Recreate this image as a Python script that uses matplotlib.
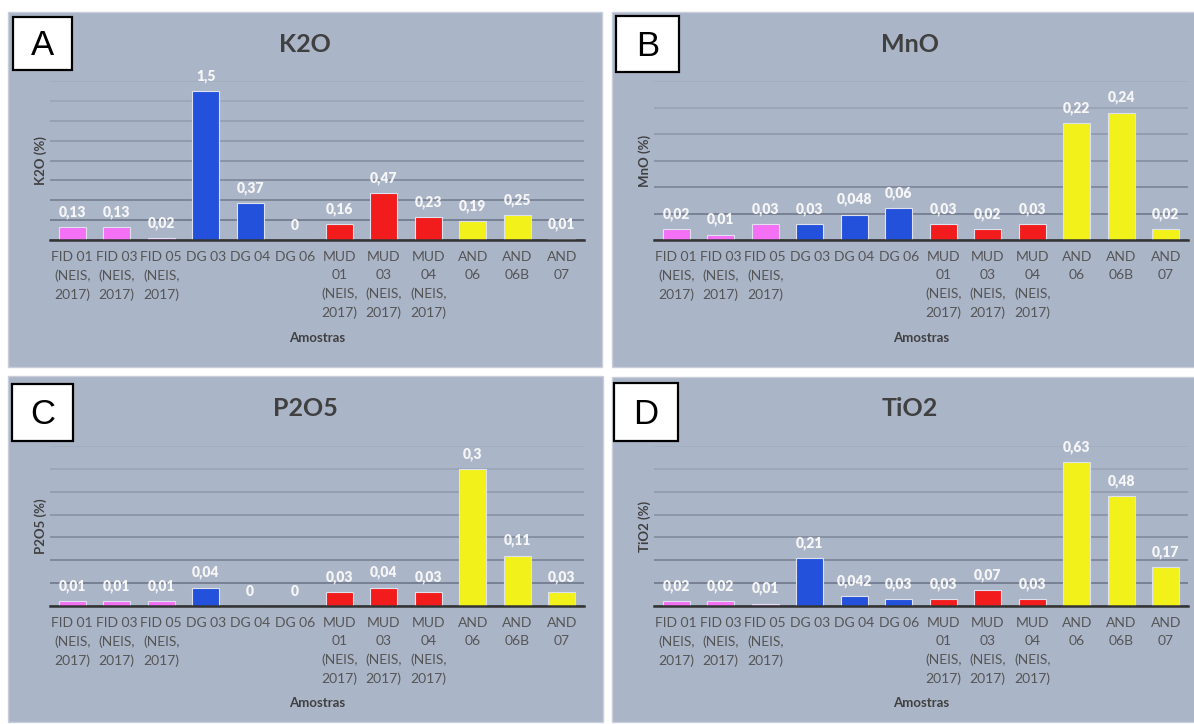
import matplotlib
matplotlib.use("Agg")
import matplotlib.pyplot as plt
from matplotlib.patches import Rectangle
import numpy as np

# Sample names (multi-line tick labels)
samples = [
    "FID 01\n(NEIS,\n2017)", "FID 03\n(NEIS,\n2017)", "FID 05\n(NEIS,\n2017)",
    "DG 03", "DG 04", "DG 06",
    "MUD\n01\n(NEIS,\n2017)", "MUD\n03\n(NEIS,\n2017)", "MUD\n04\n(NEIS,\n2017)",
    "AND\n06", "AND\n06B", "AND\n07",
]

# Oxide contents (%)
k2o = [0.13, 0.13, 0.02, 1.5, 0.37, 0, 0.16, 0.47, 0.23, 0.19, 0.25, 0.01]
mno = [0.02, 0.01, 0.03, 0.03, 0.048, 0.06, 0.03, 0.02, 0.03, 0.22, 0.24, 0.02]
p2o5 = [0.01, 0.01, 0.01, 0.04, 0, 0, 0.03, 0.04, 0.03, 0.3, 0.11, 0.03]
tio2 = [0.02, 0.02, 0.01, 0.21, 0.042, 0.03, 0.03, 0.07, 0.03, 0.63, 0.48, 0.17]

# Colour per sample group: FID, DG, MUD, AND
group_colors = ["#f470f4", "#2351dc", "#f21c1c", "#f2f21a"]
bar_colors = [group_colors[i // 3] for i in range(len(samples))]

W, H = 1194, 724
BG = "#abb5c8"
TEXT = "#404040"
TICK = "#555555"


def ax_rect(l, t, w, h):
    return [l / W, 1 - (t + h) / H, w / W, h / H]


panels = [
    # letter, title, ylabel, values, ymax, step, panel px, axes px, box px, title px
    ("A", "K2O", "K2O (%)", k2o, 1.6, 0.2, (8, 12, 594, 355), (50, 81, 534, 159),
     (13, 17, 59, 53), (305, 44)),
    ("B", "MnO", "MnO (%)", mno, 0.3, 0.05, (612, 12, 590, 355), (654, 81, 534, 159),
     (616, 16, 63, 56), (910, 44)),
    ("C", "P2O5", "P2O5 (%)", p2o5, 0.35, 0.05, (8, 376, 595, 346), (50, 446, 534, 160),
     (12, 384, 61, 57), (305, 409)),
    ("D", "TiO2", "TiO2 (%)", tio2, 0.7, 0.1, (612, 377, 590, 345), (654, 446, 534, 160),
     (614, 383, 64, 58), (910, 409)),
]


def fmt(v):
    return f"{v:g}".replace(".", ",")


fig = plt.figure(figsize=(W / 100, H / 100), dpi=100)
fig.patch.set_facecolor("white")

for letter, title, ylabel, values, ymax, step, prect, arect, brect, tpos in panels:
    px, py, pw, ph = prect
    fig.patches.append(Rectangle((px / W, 1 - (py + ph) / H), pw / W, ph / H,
                                 transform=fig.transFigure, facecolor=BG,
                                 edgecolor="#c9ced8", linewidth=1, zorder=-1))

    ax = fig.add_axes(ax_rect(*arect))
    ax.patch.set_visible(False)
    x = np.arange(len(samples))
    bars = ax.bar(x, values, width=0.6, color=bar_colors, edgecolor="#dde2ee",
                  linewidth=0.8, zorder=3)
    ax.set_xlim(-0.5, len(samples) - 0.5)
    ax.set_ylim(0, ymax)
    ticks = np.arange(0, ymax + step / 2, step)
    ax.set_yticks(ticks)
    ax.tick_params(axis="y", length=0, labelleft=False)
    ax.yaxis.grid(True, color="#525a6a", linewidth=1.3, zorder=1)
    for t, gl in zip(ticks, ax.get_ygridlines()):
        gl.set_alpha(0.7 - 0.62 * (t / ymax))
    ax.set_axisbelow(True)

    for s in ["top", "left", "right"]:
        ax.spines[s].set_visible(False)
    ax.spines["bottom"].set_color("#333333")
    ax.spines["bottom"].set_linewidth(1.8)
    ax.spines["bottom"].set_zorder(4)

    ax.set_xticks(x)
    ax.set_xticklabels(samples, fontsize=10, color=TICK, family="Lato",
                       linespacing=1.6, multialignment="center")
    ax.tick_params(axis="x", length=0, pad=8)

    for b, v in zip(bars, values):
        ax.annotate(fmt(v), (b.get_x() + b.get_width() / 2, v),
                    xytext=(0, 6), textcoords="offset points", ha="center",
                    va="bottom", fontsize=10, fontweight="heavy", color="#f6f6f6",
                    family="Lato", zorder=5)

    ax.set_xlabel("Amostras", fontsize=9.5, fontweight="bold", color=TEXT, family="Lato")
    xl_y = 338 if py < 300 else 703
    ax.xaxis.set_label_coords(0.5, (arect[1] + arect[3] - xl_y) / arect[3],
                              transform=ax.transAxes)
    ax.xaxis.label.set_va("center")
    ax.set_ylabel(ylabel, fontsize=9.5, fontweight="bold", color=TEXT, family="Lato",
                  va="center")
    ax.yaxis.set_label_coords((px + 33 - arect[0]) / arect[2], 0.5)

    fig.text(tpos[0] / W, 1 - tpos[1] / H, title, ha="center", va="center",
             fontsize=18, fontweight="bold", color=TEXT, family="Lato")

    bx, by, bw, bh = brect
    fig.patches.append(Rectangle((bx / W, 1 - (by + bh) / H), bw / W, bh / H,
                                 transform=fig.transFigure, facecolor="white",
                                 edgecolor="black", linewidth=1.6, zorder=5))
    fig.text((bx + bw / 2) / W, 1 - (by + bh / 2 + 2) / H, letter, ha="center",
             va="center", fontsize=25, color="black", family="Liberation Sans",
             zorder=6)

fig.savefig("out.png", dpi=100, facecolor="white")
